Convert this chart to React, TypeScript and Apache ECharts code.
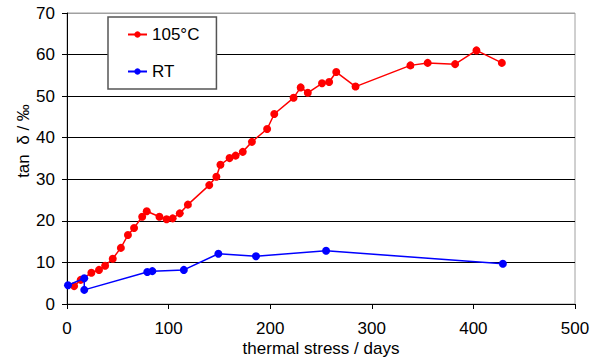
import React, { useEffect, useRef } from "react";
import * as echarts from "echarts";

const xTicks = [0, 100, 200, 300, 400, 500];
const yTicks = [0, 10, 20, 30, 40, 50, 60, 70];

const hotName = "105°C";
const hotDays = [7, 13.5, 24, 31.5, 37.5, 45, 53, 60, 66, 74, 78.5, 91, 98, 104, 111, 119, 140, 147, 151, 160, 166, 173, 182, 197, 204, 223, 230, 237, 251, 258, 265, 284, 338, 355, 382, 403, 428];
const hotValues = [4.3, 5.8, 7.5, 8.2, 9.2, 10.9, 13.5, 16.6, 18.3, 21.0, 22.3, 21.0, 20.4, 20.6, 21.8, 23.9, 28.6, 30.6, 33.5, 35.1, 35.7, 36.6, 39.0, 42.1, 45.7, 49.6, 52.1, 50.8, 53.1, 53.4, 55.8, 52.3, 57.4, 58.0, 57.7, 61.0, 58.0];

const rtName = "RT";
const rtDays = [1, 17, 17, 79, 84, 115, 149, 186, 255, 429];
const rtValues = [4.5, 6.2, 3.4, 7.7, 7.9, 8.2, 12.1, 11.5, 12.8, 9.7];

const xAxisTitle = "thermal stress / days";
const yAxisTitle = "tan  δ / ‰";

const FONT = "'Liberation Sans', Arial, sans-serif";

export default function App() {
  const ref = useRef<HTMLDivElement>(null);
  useEffect(() => {
    if (!ref.current) return;
    const chart = echarts.init(ref.current, null, { renderer: "svg" });
    const hotData = hotDays.map((d, i) => [d, hotValues[i]]);
    const rtData = rtDays.map((d, i) => [d, rtValues[i]]);
    chart.setOption({
      animation: false,
      textStyle: { fontFamily: FONT },
      grid: {
        left: 67,
        right: 23,
        top: 13,
        bottom: 57,
        show: true,
        borderColor: "#a0a0a0",
        borderWidth: 1,
      },
      legend: {
        orient: "vertical",
        left: 108,
        top: 17,
        width: 109,
        padding: [9, 17, 9, 19],
        itemGap: 20,
        itemWidth: 19,
        itemHeight: 8,
        borderColor: "#555",
        borderWidth: 1.5,
        backgroundColor: "#fff",
        textStyle: { fontSize: 17, color: "#000", fontFamily: FONT },
        data: [hotName, rtName],
      },
      xAxis: {
        type: "value",
        min: xTicks[0],
        max: xTicks[xTicks.length - 1],
        interval: 100,
        axisLine: { show: true, lineStyle: { color: "#000", width: 1 } },
        axisTick: { show: true, length: 5, inside: false, lineStyle: { color: "#000" } },
        axisLabel: { fontSize: 17, color: "#000", margin: 16, fontFamily: FONT },
        splitLine: { show: false },
      },
      yAxis: {
        type: "value",
        min: yTicks[0],
        max: yTicks[yTicks.length - 1],
        interval: 10,
        axisLine: { show: true, lineStyle: { color: "#000", width: 1 } },
        axisTick: { show: true, length: 5, inside: false, lineStyle: { color: "#000" } },
        axisLabel: { fontSize: 17, color: "#000", margin: 12, fontFamily: FONT },
        splitLine: {
          show: true,
          lineStyle: {
            color: ["#000", "#000", "#000", "#000", "#000", "#000", "#000", "#a0a0a0"],
            width: 1,
          },
        },
      },
      graphic: [
        {
          type: "text",
          x: 321,
          y: 348,
          style: {
            text: xAxisTitle,
            fontSize: 17,
            fontFamily: FONT,
            fill: "#000",
            align: "center",
            verticalAlign: "middle",
          },
        },
        {
          type: "text",
          x: 23,
          y: 141,
          rotation: Math.PI / 2,
          style: {
            text: yAxisTitle,
            fontSize: 17,
            fontFamily: FONT,
            fill: "#000",
            align: "center",
            verticalAlign: "middle",
          },
        },
      ],
      series: [
        {
          name: hotName,
          type: "line",
          data: hotData,
          symbol: "circle",
          symbolSize: 8,
          color: "#ff0000",
          lineStyle: { color: "#ff0000", width: 1.5 },
          itemStyle: { color: "#ff0000" },
          z: 3,
        },
        {
          name: rtName,
          type: "line",
          data: rtData,
          symbol: "circle",
          symbolSize: 8,
          color: "#0000ff",
          lineStyle: { color: "#0000ff", width: 1.5 },
          itemStyle: { color: "#0000ff" },
          z: 4,
        },
      ],
    });
    return () => chart.dispose();
  }, []);
  return <div ref={ref} style={{ width: 598, height: 361, position: "absolute", left: 0, top: 0 }} />;
}
